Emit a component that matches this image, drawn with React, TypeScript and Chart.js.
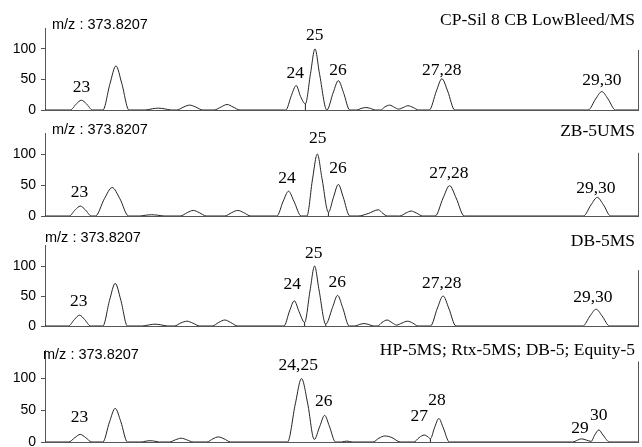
import React, { useEffect, useRef } from 'react';
import { Chart, registerables } from 'chart.js';

Chart.register(...registerables);

// ---------- data (retention axis 0..100, arbitrary units; intensity in %) ----------
const massLabel = 'm/z : 373.8207';
const panelTitles = ['CP-Sil 8 CB LowBleed/MS', 'ZB-5UMS', 'DB-5MS', 'HP-5MS; Rtx-5MS; DB-5; Equity-5'];
const yLabeledTicks = [0, 50, 100];
const yAxisMax = [134, 134, 135, 145];
const rightBorderTop = [98, 102, 93, 127];

// CP-Sil 8 CB LowBleed/MS
const cpTime = [0, 4.27, 5.29, 6.14, 6.99, 8.01, 9.76, 10.96, 11.96, 12.96, 14.16, 16.9, 18.1, 19.1, 20.1, 21.3, 22.2, 23.4, 24.4, 25.4, 26.6, 28.5, 29.7, 30.7, 31.7, 32.9, 40.6, 41.56, 42.36, 43.1, 43.91, 44.78, 45.53, 46.28, 47.53, 48.62, 49.47, 50.32, 51.4, 52.6, 53.3, 54.1, 54.9, 55.7, 56.6, 57.3, 58.1, 59.0, 59.6, 60.4, 61.2, 62.1, 63.0, 64.8, 66.0, 66.93, 67.9, 69.1, 91.6, 92.85, 93.9, 94.95, 96.2, 100];
const cpValue = [0, 0, 10, 16, 10, 0, 0, 43, 72, 43, 0, 0, 2, 3, 2, 0, 0, 5, 8, 5, 0, 0, 5, 9, 5, 0, 0, 24, 40, 22, 10, 60, 100, 60, 0, 29, 48, 29, 0, 0, 2.5, 4, 2.5, 0, 0, 5, 8, 4, 1.5, 4, 7, 4, 0, 0, 31, 51, 31, 0, 0, 18, 30, 18, 0, 0];
const cpDropTime = [43.91];
const cpDropValue = [10];
const cpLabelText = ['23', '24', '25', '26', '27,28', '29,30'];
const cpLabelX = [6.14, 42.2, 45.5, 49.4, 66.9, 93.9];
const cpLabelY = [29.5, 52.5, 115, 57, 57, 41];

// ZB-5UMS
const zbTime = [0, 4.08, 5.1, 5.95, 6.8, 7.82, 8.5, 10.02, 11.32, 12.62, 14.1, 16.0, 17.0, 18.0, 19.0, 20.1, 22.8, 24.0, 25.0, 26.0, 27.2, 30.3, 31.5, 32.5, 33.5, 34.7, 39.1, 40.17, 41.07, 41.97, 43.2, 44.16, 45.12, 45.92, 46.72, 47.79, 48.67, 49.47, 50.27, 51.4, 52.8, 54.5, 56.2, 57.0, 57.7, 59.8, 60.9, 61.76, 62.6, 63.7, 65.8, 67.13, 68.23, 69.33, 70.7, 90.8, 92.08, 93.13, 94.18, 95.4, 100];
const zbValue = [0, 0, 10, 16, 10, 0, 0, 28, 46, 28, 0, 0, 1.3, 2, 1.3, 0, 0, 5.5, 9, 5.5, 0, 0, 5.5, 9, 5.5, 0, 0, 24, 40, 24, 0, 0, 60, 100, 60, 6, 31, 51, 31, 0, 0, 4, 10, 4, 0, 0, 5, 8, 5, 0, 0, 29, 49, 29, 0, 0, 18, 30, 18, 0, 0];
const zbDropTime = [47.79];
const zbDropValue = [6];
const zbLabelText = ['23', '24', '25', '26', '27,28', '29,30'];
const zbLabelX = [5.8, 40.8, 46.0, 49.4, 68.1, 92.9];
const zbLabelY = [30.6, 53, 118, 69, 61, 37];

// DB-5MS
const dbTime = [0, 3.95, 4.97, 5.82, 6.67, 7.7, 9.75, 10.89, 11.84, 12.79, 13.9, 16.4, 17.6, 18.56, 19.5, 20.7, 21.8, 22.9, 23.93, 24.9, 26.1, 28.2, 29.3, 30.33, 31.3, 32.5, 40.3, 41.24, 42.04, 42.84, 43.78, 44.71, 45.46, 46.21, 47.34, 48.49, 49.34, 50.19, 51.3, 52.3, 53.0, 53.81, 54.6, 55.4, 56.1, 56.85, 57.69, 58.6, 59.3, 60.2, 61.11, 62.0, 62.9, 65.0, 66.18, 67.13, 68.08, 69.3, 90.7, 91.93, 92.93, 93.93, 95.2, 100];
const dbValue = [0, 0, 11, 18, 11, 0, 0, 43, 71, 43, 0, 0, 2, 3, 2, 0, 0, 5, 8, 5, 0, 0, 6, 10, 6, 0, 0, 25, 42, 24, 6, 60, 100, 60, 3, 31, 51, 31, 0, 0, 2.5, 4, 2.5, 0, 0, 6, 10, 5, 1.5, 5, 8, 5, 0, 0, 30, 50, 30, 0, 0, 17, 28, 17, 0, 0];
const dbDropTime = [43.78, 47.34];
const dbDropValue = [6, 3];
const dbLabelText = ['23', '24', '25', '26', '27,28', '29,30'];
const dbLabelX = [5.7, 41.7, 45.3, 49.3, 66.9, 92.4];
const dbLabelY = [33, 62, 113, 65, 63, 40];

// HP-5MS; Rtx-5MS; DB-5; Equity-5
const hpTime = [0, 4.0, 5.05, 5.95, 6.85, 7.9, 9.75, 10.89, 11.84, 12.79, 13.9, 16.2, 17.0, 17.72, 18.5, 19.3, 21.0, 22.0, 22.96, 23.9, 25.0, 27.3, 28.3, 29.23, 30.2, 31.3, 40.9, 42.21, 43.26, 44.31, 45.4, 46.35, 47.15, 47.95, 49.0, 50.0, 50.9, 51.8, 55.3, 56.3, 57.3, 58.5, 59.9, 62.2, 63.1, 63.96, 64.6, 64.99, 65.67, 66.42, 67.17, 68.2, 89.0, 89.8, 90.5, 91.3, 92.1, 92.7, 93.4, 94.1, 95.2, 100];
const hpValue = [0, 0, 7, 12, 7, 0, 0, 32, 53, 32, 0, 0, 1.3, 2, 1.3, 0, 0, 3.5, 6, 3.5, 0, 0, 5, 8, 5, 0, 0, 60, 100, 60, 4, 25, 42, 25, 0, 0, 1.5, 0, 0, 6, 9.5, 7, 0, 0, 7, 11, 8, 5, 22, 37, 22, 0, 0, 3, 5, 3, 1, 11, 19, 11, 0, 0];
const hpDropTime = [64.99];
const hpDropValue = [5];
const hpLabelText = ['23', '24,25', '26', '27', '28', '29', '30'];
const hpLabelX = [5.8, 42.7, 47.0, 63.1, 66.1, 90.2, 93.4];
const hpLabelY = [32, 113, 57, 33, 58, 14, 35];

// text placement (y in data units)
const titleY = [139, 129, 133, 137];
const massY = [132, 132.5, 140, 131];

// ---------- styling / layout ----------
const TRACE = '#222';
const AXIS = '#555';
const SERIF = '"Liberation Serif", "Times New Roman", serif';
const SANS = '"Liberation Sans", Arial, Helvetica, sans-serif';

type PanelDef = {
  time: number[]; value: number[]; dropTime: number[]; dropValue: number[];
  labelText: string[]; labelX: number[]; labelY: number[];
  title: string; titleY: number; massY: number; massDx: number;
  yMax: number; rightTop: number;
  top: number; height: number; padTop: number; padBottom: number;
};

const panels: PanelDef[] = [
  { time: cpTime, value: cpValue, dropTime: cpDropTime, dropValue: cpDropValue, labelText: cpLabelText, labelX: cpLabelX, labelY: cpLabelY,
    title: panelTitles[0], titleY: titleY[0], massY: massY[0], massDx: 7, yMax: yAxisMax[0], rightTop: rightBorderTop[0],
    top: 0, height: 122, padTop: 28, padBottom: 12 },
  { time: zbTime, value: zbValue, dropTime: zbDropTime, dropValue: zbDropValue, labelText: zbLabelText, labelX: zbLabelX, labelY: zbLabelY,
    title: panelTitles[1], titleY: titleY[1], massY: massY[1], massDx: 7, yMax: yAxisMax[1], rightTop: rightBorderTop[1],
    top: 105, height: 123, padTop: 28, padBottom: 12 },
  { time: dbTime, value: dbValue, dropTime: dbDropTime, dropValue: dbDropValue, labelText: dbLabelText, labelX: dbLabelX, labelY: dbLabelY,
    title: panelTitles[2], titleY: titleY[2], massY: massY[2], massDx: 0, yMax: yAxisMax[2], rightTop: rightBorderTop[2],
    top: 217, height: 121, padTop: 28, padBottom: 12 },
  { time: hpTime, value: hpValue, dropTime: hpDropTime, dropValue: hpDropValue, labelText: hpLabelText, labelX: hpLabelX, labelY: hpLabelY,
    title: panelTitles[3], titleY: titleY[3], massY: massY[3], massDx: -2, yMax: yAxisMax[3], rightTop: rightBorderTop[3],
    top: 322, height: 125, padTop: 28, padBottom: 5 },
];

function Panel({ def }: { def: PanelDef }) {
  const ref = useRef<HTMLCanvasElement>(null);
  useEffect(() => {
    const canvas = ref.current;
    if (!canvas) return;
    const textPlugin = {
      id: 'panelText',
      afterDraw(chart: any) {
        const { ctx, chartArea, scales } = chart;
        const xs = scales.x;
        const ys = scales.y;
        ctx.save();
        // partial right frame
        ctx.strokeStyle = AXIS;
        ctx.lineWidth = 1;
        const rx = Math.round(chartArea.right) + 0.5;
        ctx.beginPath();
        ctx.moveTo(rx, ys.getPixelForValue(def.rightTop));
        ctx.lineTo(rx, chartArea.bottom + 0.5);
        ctx.stroke();
        // peak labels
        ctx.fillStyle = '#000';
        ctx.font = `17.5px ${SERIF}`;
        ctx.textAlign = 'center';
        ctx.textBaseline = 'alphabetic';
        def.labelText.forEach((t, i) => {
          ctx.fillText(t, xs.getPixelForValue(def.labelX[i]), ys.getPixelForValue(def.labelY[i]));
        });
        // column title
        ctx.textAlign = 'right';
        ctx.fillText(def.title, chartArea.right - 3, ys.getPixelForValue(def.titleY));
        // mass label
        ctx.font = `14.5px ${SANS}`;
        ctx.textAlign = 'left';
        ctx.fillText(massLabel, chartArea.left + def.massDx, ys.getPixelForValue(def.massY));
        ctx.restore();
      },
    };

    const datasets: any[] = [
      {
        data: def.time.map((t, i) => ({ x: t, y: def.value[i] })),
        borderColor: TRACE,
        borderWidth: 1,
        pointRadius: 0,
        fill: false,
        cubicInterpolationMode: 'monotone',
      },
      ...def.dropTime.map((t, i) => ({
        data: [{ x: t, y: 0 }, { x: t, y: def.dropValue[i] }],
        borderColor: TRACE,
        borderWidth: 1,
        pointRadius: 0,
        fill: false,
        tension: 0,
      })),
    ];

    const chart = new Chart(canvas, {
      type: 'line',
      data: { datasets },
      options: {
        animation: false,
        responsive: false,
        devicePixelRatio: 1,
        events: [],
        layout: { padding: { left: 0, right: 4, top: def.padTop, bottom: def.padBottom } },
        plugins: { legend: { display: false }, tooltip: { enabled: false }, title: { display: false } },
        scales: {
          x: {
            type: 'linear',
            min: 0,
            max: 100,
            grid: { display: false },
            ticks: { display: false },
            border: { display: true, color: AXIS, width: 1 },
            afterFit: (s: any) => { s.height = 0; s.paddingLeft = 0; s.paddingRight = 0; },
          },
          y: {
            type: 'linear',
            min: 0,
            max: def.yMax,
            grid: { display: true, drawOnChartArea: false, drawTicks: true, tickLength: 4, color: AXIS },
            border: { display: true, color: AXIS, width: 1 },
            ticks: {
              stepSize: 25,
              includeBounds: false,
              padding: 5,
              color: '#000',
              font: { family: SANS, size: 14 },
              callback: (v: any) => (yLabeledTicks.includes(Number(v)) ? String(v) : ''),
            },
            afterFit: (s: any) => { s.width = 45; s.paddingTop = 0; s.paddingBottom = 0; },
          },
        },
      } as any,
      plugins: [textPlugin],
    });
    return () => chart.destroy();
  }, [def]);

  return (
    <canvas
      ref={ref}
      width={642}
      height={def.height}
      style={{ position: 'absolute', left: 0, top: def.top, width: 642, height: def.height }}
    />
  );
}

export default function App() {
  return (
    <div style={{ position: 'absolute', left: 0, top: 0, width: 642, height: 447, background: '#fff', overflow: 'hidden' }}>
      {panels.map((p, i) => (
        <Panel key={i} def={p} />
      ))}
    </div>
  );
}
